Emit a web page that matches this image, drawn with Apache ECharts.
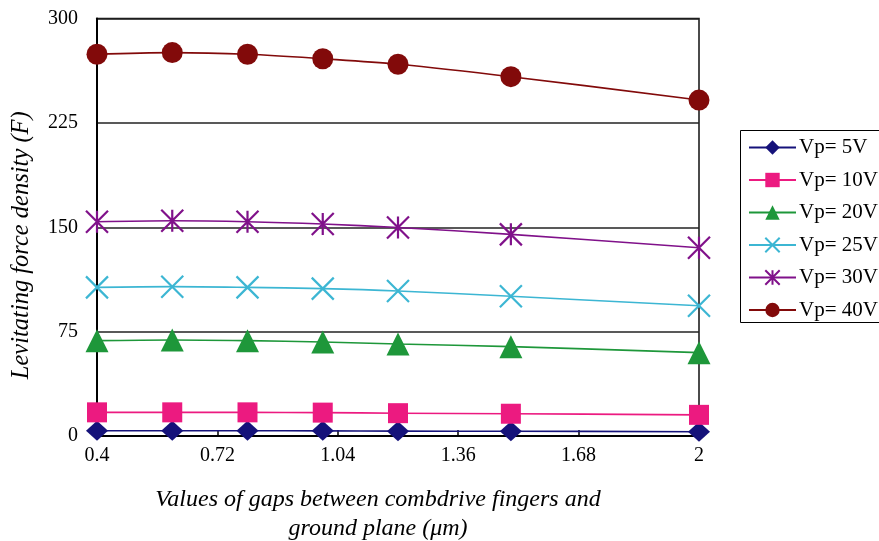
<!DOCTYPE html>
<html><head><meta charset="utf-8">
<script src="https://cdn.jsdelivr.net/npm/echarts@6/dist/echarts.min.js"></script>
<style>html,body{margin:0;padding:0;background:#fff}#c{width:879px;height:541px}</style>
</head><body><div id="c"></div>
<script>
var gaps = [0.4, 0.6, 0.8, 1.0, 1.2, 1.5, 2.0];
var vp5  = [3.8, 3.8, 3.8, 3.7, 3.5, 3.4, 3.1];
var vp10 = [17, 17, 17, 16.8, 16.4, 16, 15.2];
var vp20 = [68.5, 69, 68.5, 67.5, 66.1, 64.2, 59.9];
var vp25 = [106.8, 107.3, 106.8, 105.9, 104.2, 100.4, 93.6];
var vp30 = [154, 154.7, 154, 152.3, 149.8, 144.9, 135.3];
var vp40 = [274.3, 275.5, 274.3, 271.1, 267.1, 258.2, 241.4];
var seriesNames = ['Vp= 5V', 'Vp= 10V', 'Vp= 20V', 'Vp= 25V', 'Vp= 30V', 'Vp= 40V'];
var xTicks = [0.4, 0.72, 1.04, 1.36, 1.68, 2];
var yTicks = [0, 75, 150, 225, 300];

var FONT = 'Liberation Serif';
var allVals = [vp5, vp10, vp20, vp25, vp30, vp40];
var colors = ['#15127A', '#EC1A80', '#1E973A', '#3CB6D3', '#80118A', '#820A0A'];
var symbols = ['diamond', 'rect', 'triangle',
  'path://M0,0L10,10M10,0L0,10',
  'path://M0,0L10,10M10,0L0,10M5,0L5,10',
  'circle'];
var sizes = [[22, 20], 20, 23, 22, 22, 21];

function pairs(v) { return gaps.map(function (g, i) { return [g, v[i]]; }); }

var series = allVals.map(function (v, i) {
  var stroke = (i === 3 || i === 4);
  return {
    name: seriesNames[i],
    type: 'line',
    data: pairs(v),
    smooth: 0.35,
    symbol: symbols[i],
    symbolSize: sizes[i],
    showAllSymbol: true,
    lineStyle: { color: colors[i], width: 1.6 },
    itemStyle: stroke ? { color: colors[i], borderColor: colors[i], borderWidth: 2.2 } :
      { color: colors[i], borderWidth: 0 },
    emphasis: { disabled: true },
    z: 3 + i
  };
});

var chart = echarts.init(document.getElementById('c'), null, { renderer: 'canvas' });
chart.setOption({
  animation: false,
  backgroundColor: '#fff',
  grid: { left: 97, right: 180, top: 18.5, bottom: 105, outerBoundsMode: 'none', containLabel: false, show: true, borderColor: '#111', borderWidth: 1.5, backgroundColor: 'transparent' },
  graphic: [{
    type: 'rect', x: 740.5, y: 130.5, z: 1,
    shape: { x: 0, y: 0, width: 170, height: 192 },
    style: { fill: 'none', stroke: '#000', lineWidth: 1 }
  }],
  legend: {
    left: 740, top: 130, orient: 'vertical',
    data: seriesNames,
    itemWidth: 47, itemHeight: 18, itemGap: 11.5,
    padding: [7, 8, 2, 8],
    borderWidth: 0,
    textStyle: { fontFamily: FONT, fontSize: 21, color: '#000', padding: [0, 0, 0, -2] },
    selectedMode: false
  },
  xAxis: {
    type: 'value', min: 0.4, max: 2,
    name: 'Values of gaps between combdrive fingers and\nground plane (\u03bcm)',
    nameLocation: 'middle', nameGap: 49,
    nameTextStyle: { fontFamily: FONT, fontStyle: 'italic', fontSize: 24, color: '#000', lineHeight: 29, padding: [0, 40, 0, 0] },
    axisLine: { show: true, onZero: false, lineStyle: { color: '#000', width: 2 } },
    axisTick: { show: true, inside: true, length: 6, customValues: xTicks, lineStyle: { color: '#000', width: 1.5 } },
    axisLabel: { customValues: xTicks, fontFamily: FONT, fontSize: 20, color: '#000', margin: 10 },
    splitLine: { show: false }
  },
  yAxis: {
    type: 'value', min: 0, max: 300, interval: 75,
    name: 'Levitating force density (F)',
    nameLocation: 'middle', nameGap: 63, nameRotate: 90,
    nameTextStyle: { fontFamily: FONT, fontStyle: 'italic', fontSize: 24.5, color: '#000', padding: [0, 36, 0, 0] },
    axisLine: { show: true, lineStyle: { color: '#000', width: 2 } },
    axisTick: { show: false },
    axisLabel: { fontFamily: FONT, fontSize: 20, color: '#000', margin: 19 },
    splitLine: { show: true, lineStyle: { color: '#222', width: 1.5 } }
  },
  series: series
});
</script></body></html>
